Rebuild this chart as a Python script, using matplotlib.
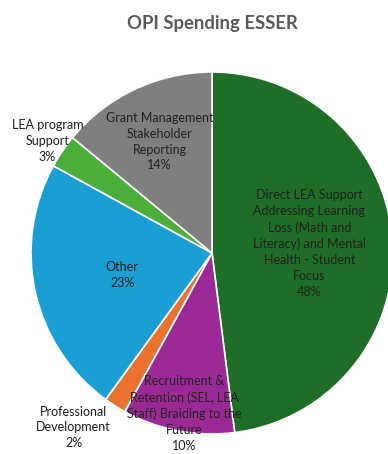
import matplotlib
matplotlib.use("Agg")
import numpy as np
import matplotlib.pyplot as plt

plt.rcParams['font.family'] = ['Lato', 'DejaVu Sans']

# data, clockwise from 12 o'clock
labels = [
    "Direct LEA Support\nAddressing Learning\nLoss (Math and\nLiteracy) and Mental\nHealth - Student\nFocus",
    "Recruitment &\nRetention (SEL, LEA\nStaff) Braiding to the\nFuture",
    "Professional\nDevelopment",
    "Other",
    "LEA program\nSupport",
    "Grant Management\nStakeholder\nReporting",
]
shares = [48, 10, 2, 23, 3, 14]
colors = ["#1e6e28", "#9c2a96", "#e8722e", "#1a9fd5", "#4aae38", "#7f7f7f"]

# label placement (radius, angle tweak in degrees)
label_r = [0.54, 0.90, 1.23, 0.51, 1.10, 0.68]
label_dang = [2, 1, -6, 1, 0, 0]

fig = plt.figure(figsize=(3.88, 4.54), dpi=100)
cx, cy, R = 212, 253, 181
W, H = 388, 454
ax = fig.add_axes([(cx - R) / W, (H - cy - R) / H, 2 * R / W, 2 * R / H])

wedges, _ = ax.pie(shares, colors=colors, startangle=90, counterclock=False,
                   radius=1, wedgeprops=dict(edgecolor="white", linewidth=1.2))
ax.set_xlim(-1, 1)
ax.set_ylim(-1, 1)
ax.set_aspect("equal")
ax.axis("off")

for w, lab, s, r, da in zip(wedges, labels, shares, label_r, label_dang):
    mid = np.deg2rad((w.theta1 + w.theta2) / 2 + da)
    x, y = r * np.cos(mid), r * np.sin(mid)
    ax.text(x, y, lab + "\n%d%%" % s, ha="center", va="center", fontsize=9,
            color="#1f1f1f", linespacing=1.38, clip_on=False)

fig.text(212 / W, 1 - 23 / H, "OPI Spending ESSER", ha="center", va="center",
         fontsize=13.3, fontweight="bold", color="#595959")

fig.savefig("out.png", dpi=100)
